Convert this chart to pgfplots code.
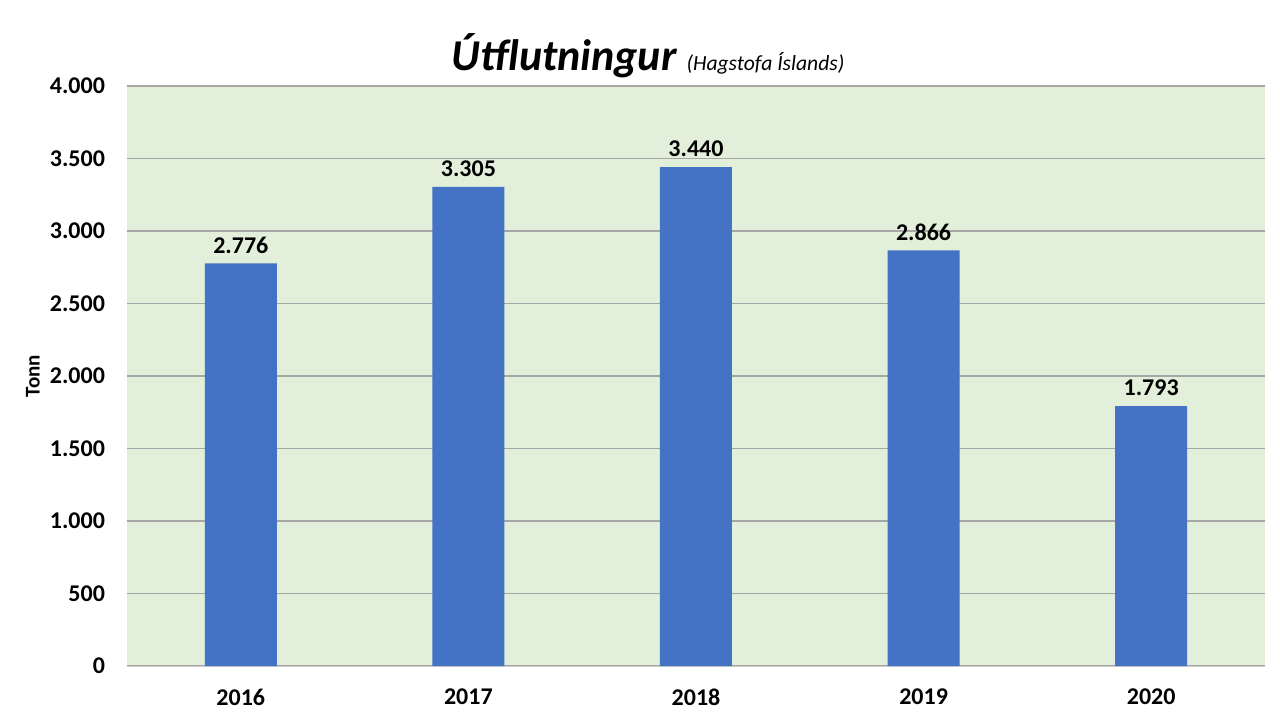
\documentclass[border=0pt]{standalone}
\usepackage{fontspec}
\setmainfont{Carlito}
\usepackage{pgfplots}
\pgfplotsset{compat=1.18}
\definecolor{bgreen}{HTML}{E2EFDA}
\definecolor{barblue}{HTML}{4472C4}
\definecolor{gridgray}{HTML}{A6A6A6}
\begin{document}
\begin{tikzpicture}[x=1pt,y=1pt]
\path[use as bounding box, fill=white] (0,0) rectangle (640,360);
\begin{axis}[
  at={(63.5pt,27pt)}, anchor=south west,
  scale only axis, width=569pt, height=290pt,
  xmin=-0.5, xmax=4.5, ymin=0, ymax=4000,
  axis background/.style={fill=bgreen},
  axis line style={draw=none},
  axis x line*=bottom,
  x axis line style={draw=gray!40},
  ytick={0,500,...,4000},
  xtick={0,1,2,3,4},
  xticklabels={2016,2017,2018,2019,2020},
  ymajorgrids, grid style={gridgray, line width=0.6pt},
  major tick length=0pt,
  tick label style={font=\fontsize{12}{14}\selectfont\bfseries},
  yticklabel style={xshift=-7.5pt},
  xticklabel style={yshift=-8pt},
  /pgf/number format/.cd, assume math mode=true, 1000 sep={.}, fixed,
]
\addplot[ybar, bar width=36pt, fill=barblue, draw=none,
  nodes near coords,
  nodes near coords style={font=\fontsize{12}{14}\selectfont\bfseries, /pgf/number format/assume math mode=true, /pgf/number format/1000 sep={.}, yshift=1.5pt},
] coordinates {(0,2776) (1,3305) (2,3440) (3,2866) (4,1793)};
\end{axis}
\node[font=\fontsize{10.5}{12}\selectfont\bfseries, rotate=90] at (16.5,172) {Tonn};
\node at (324,332) {\fontsize{22}{26}\selectfont\bfseries\itshape Útflutningur\ \fontsize{10.8}{12}\selectfont\mdseries (Hagstofa Íslands)};
\end{tikzpicture}
\end{document}
